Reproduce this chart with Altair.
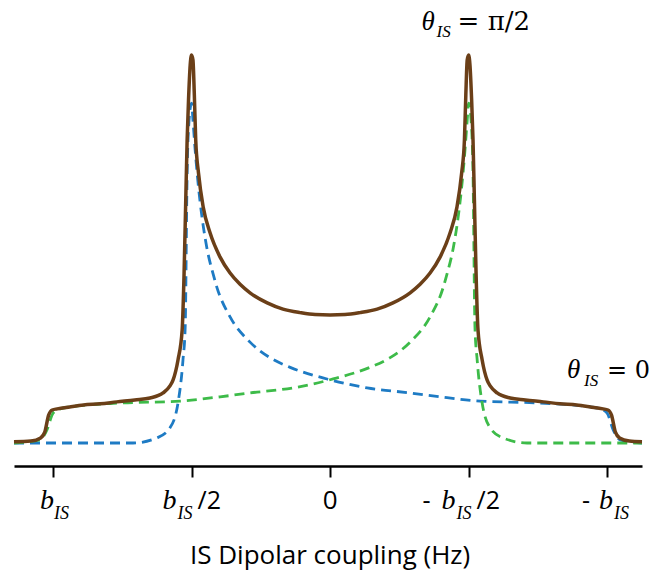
import altair as alt
import pandas as pd

# ---------------- data (x in units of b_IS, intensity normalised to peak = 100)
TICKS = [1.0, 0.5, 0.0, -0.5, -1.0]

total_x = [1.141, 1.08, 1.045, 1.03, 1.016, 1.003, 0.985, 0.94, 0.89, 0.83, 0.77, 0.705,
           0.65, 0.603, 0.578, 0.567, 0.549, 0.534, 0.527, 0.521, 0.516, 0.511, 0.505, 0.5,
           0.495, 0.49, 0.485, 0.475, 0.458, 0.433, 0.397, 0.361, 0.325, 0.289, 0.227,
           0.170, 0.108, 0.054,
           0.0,
           -0.054, -0.108, -0.170, -0.227, -0.289, -0.325, -0.361, -0.397, -0.433, -0.458,
           -0.475, -0.485, -0.49, -0.495, -0.5, -0.505, -0.511, -0.516, -0.521, -0.527,
           -0.534, -0.549, -0.567, -0.578, -0.603, -0.65, -0.705, -0.77, -0.83, -0.89,
           -0.94, -0.985, -1.003, -1.016, -1.03, -1.045, -1.08, -1.126]
total_y = [0.3, 0.5, 1.3, 2.8, 7.2, 8.5, 8.8, 9.3, 9.8, 10.1, 10.6, 11.1,
           11.6, 12.9, 14.7, 16.2, 21.4, 29.1, 43.8, 62.6, 78.1, 88.4, 97.4, 100,
           98.7, 89.7, 78.1, 69.6, 60.8, 54.1, 47.9, 43.8, 40.9, 38.7, 36.1,
           34.5, 33.6, 33.1,
           33.0,
           33.1, 33.6, 34.5, 36.1, 38.7, 40.9, 43.8, 47.9, 54.1, 60.8,
           69.6, 78.1, 89.7, 98.7, 100, 97.4, 88.4, 78.1, 62.6, 43.8,
           29.1, 21.4, 16.2, 14.7, 12.9, 11.6, 11.1, 10.6, 10.1, 9.8,
           9.3, 8.8, 8.5, 7.2, 2.8, 1.3, 0.5, 0.3]

blue_x = [1.141, 1.011, 0.711, 0.625, 0.578, 0.549, 0.531, 0.523, 0.516, 0.509, 0.5,
          0.495, 0.487, 0.48, 0.469, 0.458, 0.444, 0.422, 0.408, 0.361, 0.289, 0.217,
          0.144, 0.011, -0.134, -0.289, -0.397, -0.542, -0.758, -0.939, -0.975, -1.0,
          -1.022, -1.047, -1.126]
blue_y = [0, 0, 0, 1.3, 3.9, 10.3, 21.4, 29.9, 69.6, 83.2, 87.6,
          83.2, 75.5, 69.6, 62.0, 56.0, 50.0, 43.5, 40.0, 32.5, 26.0, 22.0,
          19.5, 16.5, 14.2, 12.9, 11.9, 10.8, 10.3, 9.3, 8.8, 7.7,
          3.4, 0.8, 0]

green_x = [-1.126, -1.011, -0.711, -0.625, -0.578, -0.549, -0.531, -0.523, -0.516, -0.509, -0.5,
           -0.495, -0.487, -0.48, -0.469, -0.458, -0.444, -0.422, -0.408, -0.361, -0.289, -0.217,
           -0.144, -0.011, 0.134, 0.289, 0.397, 0.542, 0.758, 0.939, 0.975, 1.0,
           1.022, 1.047, 1.141]
green_y = [0, 0, 0, 1.3, 3.9, 10.3, 21.4, 29.9, 69.6, 83.2, 87.6,
           83.2, 75.5, 69.6, 62.0, 56.0, 50.0, 43.5, 40.0, 32.5, 26.0, 22.0,
           19.5, 16.5, 14.2, 12.9, 11.9, 10.8, 10.3, 9.3, 8.8, 7.7,
           3.4, 0.8, 0]

# text content
B = "b"
SUB = "IS"
HALF = "/2"
MINUS = "-"
ZERO = "0"
THETA = "θ"
RHS_TOP = "= π/2"
RHS_RIGHT = "= 0"
AXIS_TITLE = "IS Dipolar coupling (Hz)"

# ---------------- styling
BROWN = "#6B3F18"
BLUE = "#1E7BC4"
GREEN = "#3DBB49"
SERIF = "Liberation Serif"
SERIF_WIDE = "DejaVu Serif"
SANS = "Open Sans"

X = alt.X("x:Q",
          scale=alt.Scale(domain=[-1.126, 1.141], reverse=True, nice=False, zero=False),
          axis=alt.Axis(values=TICKS, labels=False, title=None, grid=False,
                        domainColor="black", domainWidth=2.5,
                        tickColor="black", tickWidth=2, tickSize=11))
Y = alt.Y("y:Q", scale=alt.Scale(domain=[-5.93, 114.18], nice=False, zero=False), axis=None)


def line(xs, ys, color, width, dash=None):
    df = pd.DataFrame({"x": xs, "y": ys})
    kw = dict(color=color, strokeWidth=width, interpolate="monotone")
    if dash:
        kw["strokeDash"] = dash
    return alt.Chart(df).mark_line(**kw).encode(
        x=X, y=Y, order=alt.Order("x:Q", sort="descending"))


def part(xv, txt, dx, y, font, size, italic=False, align="left"):
    df = pd.DataFrame({"x": [xv], "t": [txt]})
    return alt.Chart(df).mark_text(
        align=align, baseline="alphabetic", dx=dx, font=font, fontSize=size,
        fontStyle="italic" if italic else "normal", color="black"
    ).encode(x=X, y=alt.value(y), text="t:N")


LB = 509   # label baseline
LS = 519   # subscript baseline

layers = [
    line(blue_x, blue_y, BLUE, 2.8, [10, 6]),
    line(green_x, green_y, GREEN, 2.8, [10, 6]),
    line(total_x, total_y, BROWN, 3.5),
    # tick labels
    part(TICKS[0], B, -13, LB, SERIF, 28, True),
    part(TICKS[0], SUB, 1, LS, SERIF, 18, True),
    part(TICKS[1], B, -29, LB, SERIF, 28, True),
    part(TICKS[1], SUB, -14, LS, SERIF, 18, True),
    part(TICKS[1], HALF, 6, LB, SANS, 25),
    part(TICKS[2], ZERO, 0, LB, SANS, 26, align="center"),
    part(TICKS[3], MINUS, -46, LB, SANS, 25),
    part(TICKS[3], B, -27, LB, SERIF, 28, True),
    part(TICKS[3], SUB, -12, LS, SERIF, 18, True),
    part(TICKS[3], HALF, 8, LB, SANS, 25),
    part(TICKS[4], MINUS, -25, LB, SANS, 25),
    part(TICKS[4], B, -8, LB, SERIF, 28, True),
    part(TICKS[4], SUB, 7, LS, SERIF, 18, True),
    # axis title
    part(0.0, AXIS_TITLE, 0, 564, SANS, 26, align="center"),
    # annotations
    part(TICKS[3], THETA, -47, 30, SERIF, 27, True),
    part(TICKS[3], SUB, -32, 37, SERIF, 17, True),
    part(TICKS[3], RHS_TOP, -11, 30, SERIF_WIDE, 26),
    part(TICKS[4], THETA, -40, 378, SERIF, 27, True),
    part(TICKS[4], SUB, -23, 386, SERIF, 17, True),
    part(TICKS[4], RHS_RIGHT, 0, 378, SERIF_WIDE, 24),
]

chart = alt.layer(*layers).properties(
    width=628, height=466,
    autosize=alt.AutoSizeParams(type="none"),
    padding={"left": 14, "top": 0, "right": 12, "bottom": 111},
).configure_view(stroke=None)

chart.save("out.html", embed_options={"renderer": "svg", "actions": False})
